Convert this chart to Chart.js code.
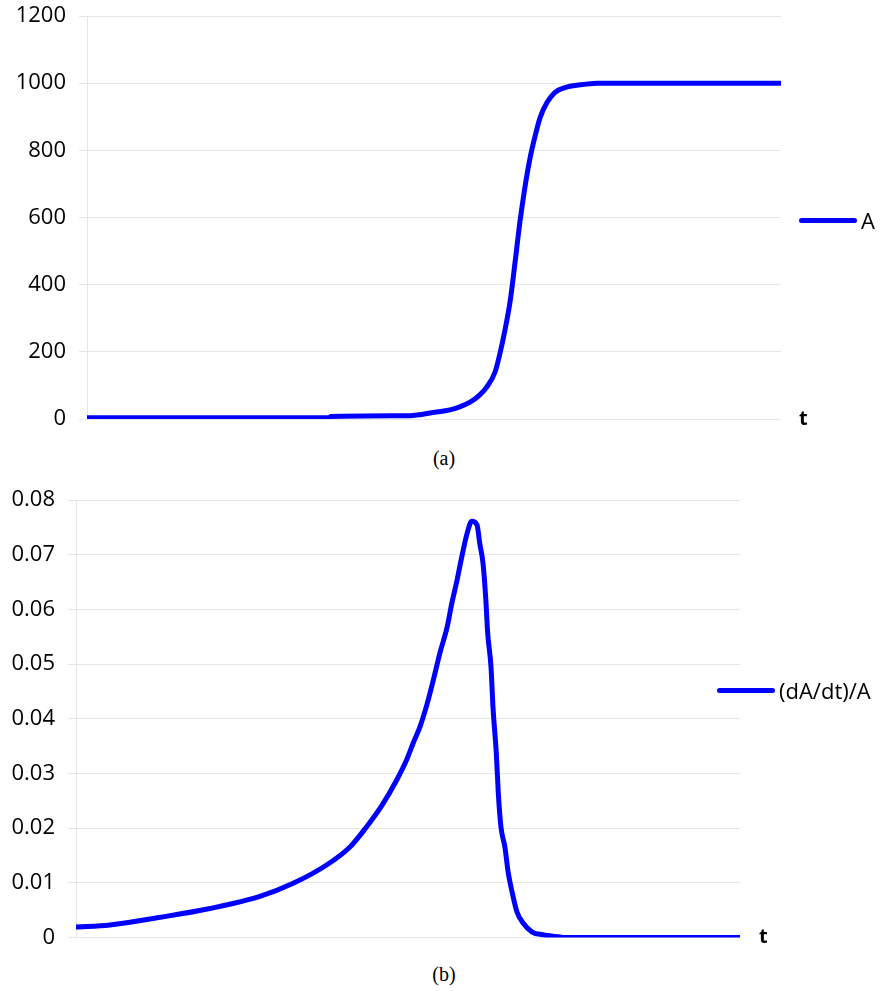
<!DOCTYPE html>
<html>
<head>
<meta charset="utf-8">
<title>A(t) and (dA/dt)/A</title>
<script src="https://cdn.jsdelivr.net/npm/chart.js@4/dist/chart.umd.min.js"></script>
<style>
  html, body { margin: 0; padding: 0; background: #fff; }
  #page { position: relative; width: 888px; height: 991px; overflow: hidden; }
  canvas { position: absolute; left: 0; }
  .legend { position: absolute; display: flex; align-items: center; font-family: "Open Sans", "Noto Sans", sans-serif; font-size: 22px; color: #000; }
  .legend .swatch { display: inline-block; height: 5px; border-radius: 3px; margin-right: 4px; }
  .axisname { position: absolute; font-family: "Open Sans", "Noto Sans", sans-serif; font-weight: bold; font-size: 20px; color: #000; line-height: 1; }
  .caption { position: absolute; width: 888px; text-align: center; font-family: "Liberation Serif", "DejaVu Serif", serif; font-size: 20px; color: #000; }
</style>
</head>
<body>
<div id="page">
  <canvas id="chartA" width="888" height="440" style="top:0"></canvas>
  <canvas id="chartB" width="888" height="480" style="top:480px"></canvas>
  <div class="legend" id="legendA" style="left:799px; top:205px;"></div>
  <div class="legend" id="legendB" style="left:717px; top:675px;"></div>
  <div class="axisname" style="left:799px; top:408px;">t</div>
  <div class="axisname" style="left:759px; top:926px;">t</div>
  <div class="caption" style="top:447px;">(a)</div>
  <div class="caption" style="top:963px;">(b)</div>
</div>
<script>
// Time axis (arbitrary units, 0..100) and population A(t)
const tA = [0, 34.9, 35.1, 46.5, 50.1, 52.3, 53.7, 55.2, 56.6, 57.6, 58.8, 59.5, 60.2, 61.0, 61.7,
            62.4, 63.1, 63.8, 64.6, 65.3, 66.3, 67.4, 68.9, 71.0, 73.5, 100];
const valuesA = [4, 4, 7.5, 10, 20, 27, 36, 50, 72, 95, 140, 195, 262, 355, 470,
                 590, 690, 773, 845, 898, 943, 972, 987, 995, 1000, 1000];

// Relative growth rate (dA/dt)/A over the same time axis
const tB = [0, 5.1, 12.7, 20.2, 27.7, 32.7, 37.8, 41.3, 43.8, 46.1, 48.3, 49.8, 50.8, 51.8,
            52.9, 53.8, 54.8, 55.9, 56.6, 57.4, 58.1, 58.9, 59.6, 60.4, 60.8, 61.3, 61.7,
            62.0, 62.5, 62.8, 63.3, 63.6, 64.0, 64.6, 65.1, 65.7, 66.4, 67.3, 68.7, 70.3,
            72.9, 73.6, 100];
const valuesB = [0.0019, 0.0023, 0.0037, 0.0053, 0.0075, 0.0099, 0.0133, 0.0166, 0.0203, 0.0242,
                 0.0288, 0.0325, 0.0356, 0.0385, 0.0428, 0.0470, 0.0520, 0.0568, 0.0611, 0.0654,
                 0.0696, 0.0739, 0.0761, 0.0754, 0.0721, 0.0684, 0.0622, 0.0557, 0.0495, 0.0421,
                 0.0337, 0.0264, 0.0202, 0.0165, 0.0118, 0.0082, 0.0047, 0.0027, 0.0010, 0.0005,
                 0.0001, 0, 0];

const ticksA = [0, 200, 400, 600, 800, 1000, 1200];
const ticksB = [0, 0.01, 0.02, 0.03, 0.04, 0.05, 0.06, 0.07, 0.08];

const labelA = 'A';
const labelB = '(dA/dt)/A';
const lineColor = '#0000ff';
const gridColor = '#e6e6e6';

function toPoints(xs, ys) {
  return xs.map((x, i) => ({ x: x, y: ys[i] }));
}

function makeChart(id, label, xs, ys, ticks, axisWidth, padding, fmt) {
  return new Chart(document.getElementById(id), {
    type: 'line',
    data: {
      datasets: [{
        label: label,
        data: toPoints(xs, ys),
        borderColor: lineColor,
        backgroundColor: lineColor,
        borderWidth: 5,
        borderJoinStyle: 'round',
        borderCapStyle: 'round',
        pointRadius: 0,
        cubicInterpolationMode: 'monotone',
        fill: false
      }]
    },
    options: {
      responsive: false,
      animation: false,
      devicePixelRatio: 1,
      layout: { padding: padding },
      plugins: { legend: { display: false }, tooltip: { enabled: false } },
      scales: {
        x: { type: 'linear', min: 0, max: 100, display: false },
        y: {
          type: 'linear',
          min: ticks[0],
          max: ticks[ticks.length - 1],
          afterFit: (scale) => {
            scale.width = axisWidth;
            scale.paddingTop = 0;
            scale.paddingBottom = 0;
          },
          afterBuildTicks: (scale) => { scale.ticks = ticks.map(v => ({ value: v })); },
          grid: { color: gridColor, lineWidth: 1, tickLength: 8, drawTicks: true },
          border: { display: true, color: gridColor, width: 1 },
          ticks: {
            padding: 13,
            color: '#000',
            font: { family: '"Open Sans", "Noto Sans", sans-serif', size: 22 },
            callback: fmt
          }
        }
      }
    }
  });
}

// Legend built from each chart's own dataset
function htmlLegend(chart, elId) {
  const el = document.getElementById(elId);
  chart.data.datasets.forEach(ds => {
    const sw = document.createElement('span');
    sw.className = 'swatch';
    sw.style.width = '58px';
    sw.style.background = ds.borderColor;
    const tx = document.createElement('span');
    tx.textContent = ds.label;
    el.appendChild(sw);
    el.appendChild(tx);
  });
}

const chartA = makeChart('chartA', labelA, tA, valuesA, ticksA, 87,
  { top: 16, right: 107, bottom: 21, left: 0 }, v => String(v));
const chartB = makeChart('chartB', labelB, tB, valuesB, ticksB, 76,
  { top: 20, right: 148, bottom: 22.5, left: 0 }, v => (v === 0 ? '0' : v.toFixed(2)));

htmlLegend(chartA, 'legendA');
htmlLegend(chartB, 'legendB');
</script>
</body>
</html>
